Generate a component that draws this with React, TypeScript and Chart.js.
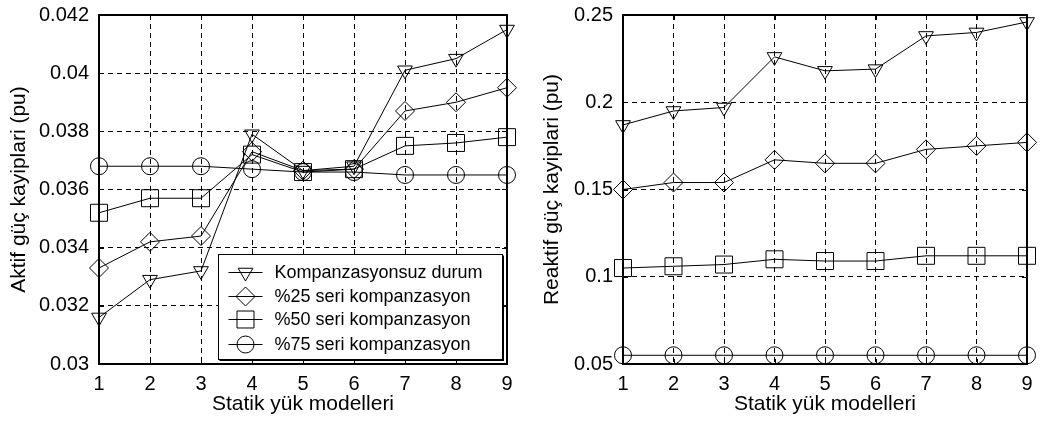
import React, { useEffect, useRef } from 'react';
import { Chart, registerables } from 'chart.js';

Chart.register(...registerables);

// ---------- data ----------
const categories = ['1', '2', '3', '4', '5', '6', '7', '8', '9'];

const seriesNames = [
  'Kompanzasyonsuz durum',
  '%25 seri kompanzasyon',
  '%50 seri kompanzasyon',
  '%75 seri kompanzasyon',
];

// Aktif güç kayiplari (pu)
const aktifKompanzasyonsuz = [0.0316, 0.0329, 0.0332, 0.0379, 0.03665, 0.0368, 0.0401, 0.0405, 0.0415];
const aktifSeri25 = [0.0333, 0.0342, 0.0344, 0.0373, 0.03665, 0.0367, 0.0387, 0.039, 0.0395];
const aktifSeri50 = [0.0352, 0.0357, 0.0357, 0.0372, 0.0366, 0.0367, 0.0375, 0.0376, 0.0378];
const aktifSeri75 = [0.0368, 0.0368, 0.0368, 0.0367, 0.0366, 0.0366, 0.0365, 0.0365, 0.0365];

// Reaktif güç kayiplari (pu)
const reaktifKompanzasyonsuz = [0.187, 0.195, 0.197, 0.226, 0.218, 0.219, 0.238, 0.24, 0.246];
const reaktifSeri25 = [0.15, 0.154, 0.154, 0.167, 0.165, 0.165, 0.173, 0.175, 0.177];
const reaktifSeri50 = [0.105, 0.106, 0.107, 0.11, 0.109, 0.109, 0.112, 0.112, 0.112];
const reaktifSeri75 = [0.055, 0.055, 0.055, 0.055, 0.055, 0.055, 0.055, 0.055, 0.055];

const aktifYRange = [0.03, 0.042];
const aktifYStep = 0.002;
const reaktifYRange = [0.05, 0.25];
const reaktifYStep = 0.05;

// ---------- styles ----------
const FONT = '"Liberation Sans", Arial, Helvetica, sans-serif';

const markers = [
  { style: 'triangle', r: 8.5, rot: 180 },
  { style: 'rectRot', r: 9.5, rot: 0 },
  { style: 'rect', r: 12, rot: 0 },
  { style: 'circle', r: 8.5, rot: 0 },
];

function drawMarker(ctx: CanvasRenderingContext2D, style: string, x: number, y: number, r: number, rot: number) {
  ctx.beginPath();
  if (style === 'triangle') {
    let rad = (rot * Math.PI) / 180;
    for (let k = 0; k < 3; k++) {
      const px = x + Math.sin(rad) * r;
      const py = y - Math.cos(rad) * r;
      if (k === 0) ctx.moveTo(px, py);
      else ctx.lineTo(px, py);
      rad += (2 * Math.PI) / 3;
    }
    ctx.closePath();
  } else if (style === 'rectRot') {
    ctx.moveTo(x - r, y);
    ctx.lineTo(x, y - r);
    ctx.lineTo(x + r, y);
    ctx.lineTo(x, y + r);
    ctx.closePath();
  } else if (style === 'rect') {
    const s = r * Math.SQRT1_2;
    ctx.rect(x - s, y - s, 2 * s, 2 * s);
  } else {
    ctx.arc(x, y, r, 0, Math.PI * 2);
  }
  ctx.stroke();
}

const framePlugin = {
  id: 'matlabFrame',
  afterDatasetsDraw(chart: any, _args: any, opts: any) {
    const { ctx, chartArea: a, scales } = chart;
    ctx.save();
    ctx.setLineDash([]);
    ctx.strokeStyle = '#000';
    ctx.lineWidth = 1;
    const tl = 5;
    ctx.beginPath();
    scales.x.ticks.forEach((_t: any, i: number) => {
      const x = Math.round(scales.x.getPixelForTick(i)) + 0.5;
      ctx.moveTo(x, a.bottom);
      ctx.lineTo(x, a.bottom - tl);
      ctx.moveTo(x, a.top);
      ctx.lineTo(x, a.top + tl);
    });
    scales.y.ticks.forEach((_t: any, i: number) => {
      const y = Math.round(scales.y.getPixelForTick(i)) + 0.5;
      ctx.moveTo(a.left, y);
      ctx.lineTo(a.left + tl, y);
      ctx.moveTo(a.right, y);
      ctx.lineTo(a.right - tl, y);
    });
    ctx.stroke();

    ctx.lineWidth = 2;
    ctx.strokeRect(Math.round(a.left), Math.round(a.top), Math.round(a.right - a.left), Math.round(a.bottom - a.top));

    if (opts && opts.legend) {
      const bw = 284;
      const bh = 105;
      const bx = Math.round(a.right - 5 - bw) + 0.5;
      const by = Math.round(a.bottom - 5 - bh) + 0.5;
      ctx.fillStyle = '#fff';
      ctx.fillRect(bx, by, bw, bh);
      ctx.lineWidth = 1;
      ctx.strokeRect(bx, by, bw, bh);
      ctx.lineWidth = 2;
      ctx.beginPath();
      ctx.moveTo(bx + bw + 0.5, by + 1);
      ctx.lineTo(bx + bw + 0.5, by + bh + 0.5);
      ctx.lineTo(bx + 1, by + bh + 0.5);
      ctx.stroke();
      const rows = [17, 41, 64, 89];
      ctx.font = `18px ${FONT}`;
      ctx.textBaseline = 'middle';
      ctx.textAlign = 'left';
      chart.data.datasets.forEach((ds: any, i: number) => {
        const y = Math.round(by + rows[i]) + 0.5;
        ctx.lineWidth = 1;
        ctx.strokeStyle = '#000';
        ctx.beginPath();
        ctx.moveTo(bx + 10, y);
        ctx.lineTo(bx + 44, y);
        ctx.stroke();
        const m = markers[i];
        drawMarker(ctx, m.style, bx + 27, y, m.r, m.rot);
        ctx.fillStyle = '#000';
        ctx.fillText(ds.label, bx + 56, y + 1);
      });
    }
    ctx.restore();
  },
};

function buildConfig(p: {
  series: number[][];
  yRange: number[];
  yStep: number;
  decimals: number;
  yTitle: string;
  yAxisWidth: number;
  padRight: number;
  yTitlePad: number;
  legend: boolean;
}): any {
  return {
    type: 'line',
    data: {
      labels: categories,
      datasets: p.series.map((d, i) => ({
        label: seriesNames[i],
        data: d,
        borderColor: '#000',
        borderWidth: 1,
        pointStyle: markers[i].style,
        pointRadius: markers[i].r,
        pointHoverRadius: markers[i].r,
        pointRotation: markers[i].rot,
        pointBorderColor: '#000',
        pointBorderWidth: 1,
        pointBackgroundColor: 'rgba(0,0,0,0)',
        fill: false,
        tension: 0,
        clip: false,
      })),
    },
    options: {
      responsive: false,
      maintainAspectRatio: false,
      animation: false,
      events: [],
      layout: { padding: { top: 15, right: p.padRight, left: 0, bottom: 0 } },
      plugins: {
        legend: { display: false },
        tooltip: { enabled: false },
        matlabFrame: { legend: p.legend },
      },
      scales: {
        x: {
          type: 'category',
          offset: false,
          grid: { color: '#000', lineWidth: 1, drawTicks: false },
          border: { display: false, dash: [5, 4] },
          ticks: {
            color: '#000',
            font: { family: FONT, size: 20 },
            padding: 8,
            maxRotation: 0,
            autoSkip: false,
          },
          title: {
            display: true,
            text: 'Statik yük modelleri',
            color: '#000',
            font: { family: FONT, size: 21 },
            padding: { top: 0, bottom: 4 },
          },
          afterFit: (s: any) => {
            s.height = 57;
            s.paddingLeft = 0;
            s.paddingRight = 0;
          },
        },
        y: {
          type: 'linear',
          min: p.yRange[0],
          max: p.yRange[1],
          grid: { color: '#000', lineWidth: 1, drawTicks: false },
          border: { display: false, dash: [5, 4] },
          ticks: {
            stepSize: p.yStep,
            color: '#000',
            font: { family: FONT, size: 20 },
            padding: 10,
            callback: (v: any) => String(parseFloat(Number(v).toFixed(p.decimals))),
          },
          title: {
            display: true,
            text: p.yTitle,
            color: '#000',
            font: { family: FONT, size: 21 },
            padding: { top: p.yTitlePad, bottom: 0 },
          },
          afterFit: (s: any) => {
            s.width = p.yAxisWidth;
            s.paddingTop = 0;
            s.paddingBottom = 0;
          },
        },
      },
    },
    plugins: [framePlugin],
  };
}

export default function App() {
  const leftRef = useRef<HTMLCanvasElement>(null);
  const rightRef = useRef<HTMLCanvasElement>(null);

  useEffect(() => {
    const c1 = new Chart(
      leftRef.current as HTMLCanvasElement,
      buildConfig({
        series: [aktifKompanzasyonsuz, aktifSeri25, aktifSeri50, aktifSeri75],
        yRange: aktifYRange,
        yStep: aktifYStep,
        decimals: 3,
        yTitle: 'Aktif güç kayiplari (pu)',
        yAxisWidth: 99,
        padRight: 12,
        yTitlePad: 7,
        legend: true,
      })
    );
    const c2 = new Chart(
      rightRef.current as HTMLCanvasElement,
      buildConfig({
        series: [reaktifKompanzasyonsuz, reaktifSeri25, reaktifSeri50, reaktifSeri75],
        yRange: reaktifYRange,
        yStep: reaktifYStep,
        decimals: 2,
        yTitle: 'Reaktif güç kayiplari (pu)',
        yAxisWidth: 103,
        padRight: 8,
        yTitlePad: 20,
        legend: false,
      })
    );
    return () => {
      c1.destroy();
      c2.destroy();
    };
  }, []);

  return (
    <div style={{ position: 'absolute', left: 0, top: 0, width: 1040, height: 421, background: '#fff' }}>
      <canvas ref={leftRef} width={520} height={421} style={{ position: 'absolute', left: 0, top: 0 }} />
      <canvas ref={rightRef} width={520} height={421} style={{ position: 'absolute', left: 520, top: 0 }} />
    </div>
  );
}
